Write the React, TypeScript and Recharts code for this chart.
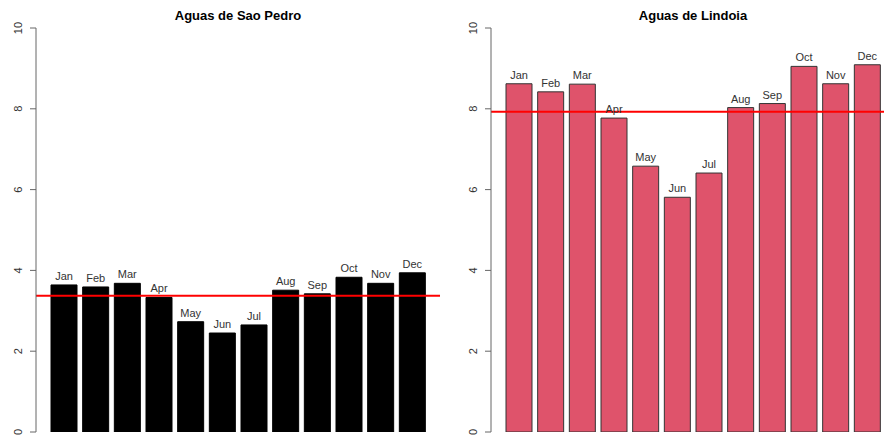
import React from 'react';
import { BarChart, Bar, XAxis, YAxis, ReferenceLine, LabelList } from 'recharts';

const months = ['Jan', 'Feb', 'Mar', 'Apr', 'May', 'Jun', 'Jul', 'Aug', 'Sep', 'Oct', 'Nov', 'Dec'];
const saoPedroValues = [3.64, 3.59, 3.68, 3.33, 2.73, 2.45, 2.65, 3.51, 3.42, 3.83, 3.68, 3.94];
const lindoiaValues = [8.62, 8.42, 8.61, 7.77, 6.58, 5.81, 6.41, 8.03, 8.13, 9.05, 8.62, 9.09];
const yTicks = [0, 2, 4, 6, 8, 10];
const titles = ['Aguas de Sao Pedro', 'Aguas de Lindoia'];

const FONT = '"Liberation Sans", Arial, Helvetica, sans-serif';

const RotTick = (props: any) => {
  const { x, y, payload } = props;
  const bx = x - 6;
  return (
    <text
      x={bx}
      y={y}
      textAnchor="middle"
      transform={`rotate(-90, ${bx}, ${y})`}
      fontSize={11}
      fill="#333"
      fontFamily={FONT}
    >
      {payload.value}
    </text>
  );
};

const mean = (a: number[]) => a.reduce((s, v) => s + v, 0) / a.length;

const Panel = ({ values, title, fill, stroke, left }: { values: number[]; title: string; fill: string; stroke: string; left: number }) => {
  const data = months.map((m, i) => ({ month: m, value: values[i] }));
  return (
    <div style={{ position: 'absolute', left, top: 0, width: 440, height: 438 }}>
      <div
        style={{
          position: 'absolute',
          left: 36,
          width: 404,
          top: 8,
          height: 16,
          lineHeight: '16px',
          textAlign: 'center',
          fontFamily: FONT,
          fontWeight: 'bold',
          fontSize: 13,
          color: '#000',
          whiteSpace: 'nowrap',
        }}
      >
        {title}
      </div>
      <BarChart width={440} height={438} data={data} margin={{ top: 28, right: 0, bottom: 6, left: 0 }}>
        <XAxis dataKey="month" hide padding={{ left: 12, right: 12 }} />
        <YAxis
          width={36}
          domain={[0, 10]}
          ticks={yTicks}
          interval={0}
          allowDataOverflow
          tickSize={6}
          tickMargin={2}
          stroke="#666"
          axisLine={{ stroke: '#666' }}
          tickLine={{ stroke: '#666' }}
          tick={<RotTick />}
        />
        <Bar dataKey="value" fill={fill} stroke={stroke} strokeWidth={1} barSize={26} isAnimationActive={false}>
          <LabelList dataKey="month" position="top" offset={5} fontSize={11} fill="#333" fontFamily={FONT} />
        </Bar>
        <ReferenceLine y={mean(values)} stroke="#ff0000" strokeWidth={2} />
      </BarChart>
    </div>
  );
}

export default function App() {
  return (
    <div style={{ position: 'absolute', left: 0, top: 0, width: 884, height: 438, overflow: 'hidden', background: '#fff' }}>
      <Panel values={saoPedroValues} title={titles[0]} fill="#000000" stroke="#000000" left={0} />
      <Panel values={lindoiaValues} title={titles[1]} fill="#DF536B" stroke="#333333" left={455} />
    </div>
  );
}
